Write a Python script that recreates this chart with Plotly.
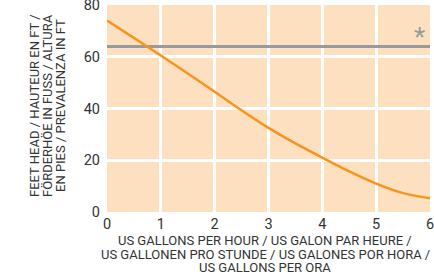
import plotly.graph_objects as go

flow_gph = [0, 0.5, 1, 1.5, 2, 2.5, 3, 3.5, 4, 4.5, 5, 5.5, 6]
head_ft = [74, 67.3, 60.5, 53.5, 46.5, 39.3, 32.5, 26.5, 21, 15.7, 11, 7.3, 5.3]
ref_x = [0, 6]
ref_head = [64, 64]
x_ticks = [0, 1, 2, 3, 4, 5, 6]
y_ticks = [0, 20, 40, 60, 80]
x_title_lines = ["US GALLONS PER HOUR / US GALON PAR HEURE /",
                 "US GALLONEN PRO STUNDE / US GALONES POR HORA /",
                 "US GALLONS PER ORA"]
y_title_lines = ["FEET HEAD / HAUTEUR EN FT /",
                 "FÖRDERHÖE IN FUSS / ALTURA",
                 "EN PIES / PREVALENZA IN FT"]

W, H = 434, 276
L, R, T, B = 107, 4, 5, 64
pw, ph = W - L - R, H - T - B

def px_x(p):
    return (p - L) / pw

def px_y(p):
    return (H - B - p) / ph

fig = go.Figure()
fig.add_trace(go.Scatter(x=ref_x, y=ref_head, mode="lines",
                         line=dict(color="#9a9a9a", width=3), showlegend=False,
                         hoverinfo="skip"))
fig.add_trace(go.Scatter(x=flow_gph, y=head_ft, mode="lines",
                         line=dict(color="#f7941d", width=2.5, shape="spline"),
                         showlegend=False, hoverinfo="skip"))
fig.add_annotation(xref="paper", yref="paper", x=px_x(419), y=px_y(37),
                   text="*", showarrow=False, xanchor="center", yanchor="middle",
                   font=dict(family="Roboto", size=26, color="#9a9a9a"))

for i, line in enumerate(x_title_lines):
    fig.add_annotation(xref="paper", yref="paper", x=px_x(265), y=px_y(240.5 + 13.7 * i),
                       text=line, showarrow=False, xanchor="center", yanchor="middle",
                       font=dict(family="Roboto", size=13, color="#333333"))
for i, line in enumerate(y_title_lines):
    fig.add_annotation(xref="paper", yref="paper", x=px_x(35 + 13 * i), y=px_y(106),
                       text=line, showarrow=False, xanchor="center", yanchor="middle",
                       textangle=-90,
                       font=dict(family="Roboto", size=13, color="#333333"))

fig.update_layout(
    width=W, height=H,
    margin=dict(l=L, r=R, t=T, b=B, autoexpand=False),
    paper_bgcolor="white", plot_bgcolor="#fde0bf",
    font=dict(family="Roboto", color="#333333"),
    hovermode=False,
    xaxis=dict(range=[0, 6], tickvals=x_ticks, showgrid=True, gridcolor="white",
               gridwidth=3, zeroline=False, showline=False, ticks="",
               tickfont=dict(size=14.5), ticklabeloverflow="allow", automargin=False,
               ticklabelstandoff=1),
    yaxis=dict(range=[0, 80], tickvals=y_ticks, showgrid=True, gridcolor="white",
               gridwidth=3, zeroline=False, showline=False, ticks="",
               tickfont=dict(size=14.5), ticklabeloverflow="allow", automargin=False,
               ticklabelstandoff=6),
)
fig.write_html("out.html", config={"displayModeBar": False},
               post_script="document.body.style.margin='0';document.body.style.overflow='hidden';")
